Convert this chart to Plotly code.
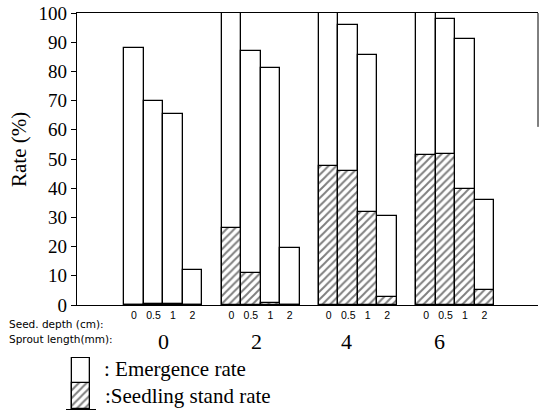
import plotly.graph_objects as go

# ---- data ----
sprout_lengths = ["0", "2", "4", "6"]            # Sprout length (mm)
seed_depths = ["0", "0.5", "1", "2"]              # Seed depth (cm)
emergence_rate = [88, 70, 65.5, 12,
                  100, 87, 81, 19.5,
                  100, 96, 85.5, 30.5,
                  100, 98, 91, 36]
seedling_stand_rate = [0, 0.5, 0.5, 0,
                       26.5, 10.8, 0.6, 0,
                       47.5, 45.8, 31.8, 2.8,
                       51.5, 51.8, 39.8, 5]
y_ticks = [0, 10, 20, 30, 40, 50, 60, 70, 80, 90, 100]

W, H = 539, 413
def px(x):
    return x / W
def py(y):
    return 1 - y / H

# bar positions derived from group/depth indices (one empty slot between groups)
xpos = [g * 5 + j for g in range(len(sprout_lengths)) for j in range(len(seed_depths))]
xtext = [seed_depths[j] for g in range(len(sprout_lengths)) for j in range(len(seed_depths))]
separators = [g * 5 + 4 for g in range(len(sprout_lengths) - 1)]

SERIF = "Liberation Serif"
SANS = "Liberation Sans"
LW = 1.3
PAT = dict(shape="/", fgcolor="black", bgcolor="white", size=5.5, solidity=0.35)

fig = go.Figure()
fig.add_trace(go.Bar(
    x=xpos, y=emergence_rate, width=1, name="Emergence rate",
    marker=dict(color="white", line=dict(color="black", width=LW)),
    xaxis="x", yaxis="y", showlegend=False))
fig.add_trace(go.Bar(
    x=xpos, y=seedling_stand_rate, width=1, name="Seedling stand rate",
    marker=dict(color="white", line=dict(color="black", width=LW), pattern=PAT),
    xaxis="x", yaxis="y", showlegend=False))

# legend icon (stacked bar) drawn on a small auxiliary subplot
fig.add_trace(go.Bar(x=[0], y=[2], width=1,
                     marker=dict(color="white", line=dict(color="black", width=LW)),
                     xaxis="x3", yaxis="y3", showlegend=False, hoverinfo="skip"))
fig.add_trace(go.Bar(x=[0], y=[1], width=1,
                     marker=dict(color="white", line=dict(color="black", width=LW), pattern=PAT),
                     xaxis="x3", yaxis="y3", showlegend=False, hoverinfo="skip"))

x_lo = -2.93
x_hi = 20.75

fig.update_layout(
    width=W, height=H,
    margin=dict(l=0, r=0, t=0, b=0),
    paper_bgcolor="white", plot_bgcolor="white",
    barmode="overlay", bargap=0,
    xaxis=dict(domain=[px(77), px(538)], range=[x_lo, x_hi],
               tickmode="array", tickvals=xpos, ticktext=xtext,
               ticks="",
               tickfont=dict(family=SANS, size=10.5, color="black"),
               showline=True, linecolor="black", linewidth=LW, mirror=True,
               showgrid=False, zeroline=False, automargin=False, anchor="y"),
    xaxis2=dict(overlaying="x", matches="x", range=[x_lo, x_hi], anchor="y",
                tickmode="array", tickvals=separators, ticks="outside", ticklen=5,
                tickwidth=LW, tickcolor="black", showticklabels=False,
                showline=False, showgrid=False, zeroline=False, automargin=False),
    yaxis=dict(domain=[py(305), py(13)], range=[0, 100],
               tickmode="array", tickvals=y_ticks,
               ticks="outside", ticklen=5, tickwidth=LW, tickcolor="black",
               tickfont=dict(family=SERIF, size=19, color="black"),
               showline=True, linecolor="black", linewidth=LW,
               showgrid=False, zeroline=False, automargin=False, anchor="x"),
    xaxis3=dict(domain=[px(66), px(96)], range=[-0.79, 0.79], anchor="y3",
                showline=True, linecolor="black", linewidth=LW,
                showticklabels=False, ticks="", showgrid=False, zeroline=False,
                automargin=False, fixedrange=True),
    yaxis3=dict(domain=[py(409), py(357)], range=[0, 2.03], anchor="x3",
                visible=False, showgrid=False, zeroline=False, automargin=False),
    font=dict(family=SERIF, color="black"),
)

# partial right frame line
fig.add_shape(type="line", xref="x domain", x0=1, x1=1, yref="y", y0=61, y1=100,
              line=dict(color="black", width=1))

def note(text, x, y, size, family=SERIF, xanchor="left", xref="paper", angle=0):
    return dict(text=text, x=x, y=y, xref=xref, yref="paper", xanchor=xanchor,
                yanchor="middle", textangle=angle, showarrow=False,
                font=dict(family=family, size=size, color="black"))

ann = [
    note("Rate (%)", px(19), py(150), 21, xanchor="center", angle=-90),
    note("Seed. depth (cm):", px(7), py(324), 10.5, family="DejaVu Sans"),
    note("Sprout length(mm):", px(7), py(339), 10.5, family="DejaVu Sans"),
    note(": Emergence rate", px(102), py(369), 21),
    note(":Seedling stand rate", px(103), py(396), 21),
]
group_label_x = [1.5, 6.3, 10.9, 15.7]
for lab, gx in zip(sprout_lengths, group_label_x):
    ann.append(note(lab, gx, py(341), 22, xanchor="center", xref="x"))
fig.update_layout(annotations=ann)

fig.write_html("out.html", config={"displayModeBar": False},
               post_script="document.body.style.margin='0';document.body.style.overflow='hidden';")
